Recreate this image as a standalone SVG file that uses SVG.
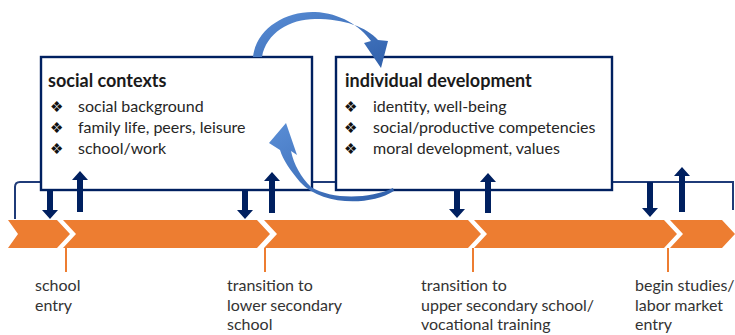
<svg xmlns="http://www.w3.org/2000/svg" width="735" height="335" viewBox="0 0 735 335">
<defs>
<style>
.box{fill:#fff;stroke:#002060;stroke-width:2.4}
.conn{fill:none;stroke:#1F3B78;stroke-width:2}
.arr{fill:#002060}
.chev{fill:#ED7D31}
.tick{stroke:#ED7D31;stroke-width:2}
.title{font-family:Lato,"Open Sans",sans-serif;font-weight:bold;font-size:18px;fill:#1a1a1a}
.item{font-family:Lato,"Open Sans",sans-serif;font-size:16px;fill:#262626}
.bul{font-family:"DejaVu Sans",sans-serif;font-size:15px;fill:#111}
.lbl{font-family:Lato,"Open Sans",sans-serif;font-size:16px;fill:#333}
.curve{fill:url(#blueg)}
</style>
<linearGradient id="blueg" x1="0" y1="0" x2="1" y2="1">
<stop offset="0" stop-color="#5A8ED6"/>
<stop offset="1" stop-color="#2F5FAA"/>
</linearGradient>
</defs>
<g id="timeline">
<polygon class="chev" points="8,220 57,220 70,234 57,248 8,248 18,234"/>
<polygon class="chev" points="63,220 257,220 270,234 257,248 63,248 76,234"/>
<polygon class="chev" points="264,220 468,220 481,234 468,248 264,248 277,234"/>
<polygon class="chev" points="474,220 664,220 677,234 664,248 474,248 487,234"/>
<polygon class="chev" points="670,220 722,220 735,234 722,248 670,248 683,234"/>
<line class="tick" x1="66" y1="248" x2="66" y2="272"/>
<line class="tick" x1="265" y1="248" x2="265" y2="272"/>
<line class="tick" x1="473" y1="248" x2="473" y2="272"/>
<line class="tick" x1="668" y1="248" x2="668" y2="272"/>
</g>
<g id="connectors">
<path class="conn" d="M15,219 L15,187 Q15,182 20,182 L733,182 L733,210"/>
</g>
<g id="social-contexts">
<rect class="box" x="41" y="57" width="271" height="133"/>
<text class="title" x="48" y="87">social contexts</text>
<text class="bul" x="50" y="112">❖︎</text>
<text class="bul" x="50" y="133">❖︎</text>
<text class="bul" x="50" y="154">❖︎</text>
<text class="item" x="78" y="112">social background</text>
<text class="item" x="78" y="133">family life, peers, leisure</text>
<text class="item" x="78" y="154">school/work</text>
</g>
<g id="individual-development">
<rect class="box" x="336" y="57" width="276" height="133"/>
<text class="title" x="345" y="87">individual development</text>
<text class="bul" x="344" y="112">❖︎</text>
<text class="bul" x="344" y="133">❖︎</text>
<text class="bul" x="344" y="154">❖︎</text>
<text class="item" x="373" y="112">identity, well-being</text>
<text class="item" x="373" y="133">social/productive competencies</text>
<text class="item" x="373" y="154">moral development, values</text>
</g>
<g id="influence-arrows">
<path class="curve" d="M253,57 C256,29 285,11 315,12 C340,13 360,26 371,41 L364,43 L381,68 L388,41 L378,40 C366,27 345,19 315,19 C290,19 266,33 262,57 Z"/>
<path class="curve" d="M394,191 C370,206 322,206 300,182 C290,170 283,160 280,150 L269,143 L286,123 L297,155 L291,151 C294,165 301,177 311,187 C332,200 370,199 393,188 Z"/>
</g>
<g id="interaction-arrows">
<polygon class="arr" points="47,190 53,190 53,210 58,210 50,219 42,210 47,210"/>
<polygon class="arr" points="242,190 248,190 248,210 253,210 245,219 237,210 242,210"/>
<polygon class="arr" points="454,190 460,190 460,209 465,209 457,218 449,209 454,209"/>
<polygon class="arr" points="647,182 653,182 653,208 658,208 650,217 642,208 647,208"/>
<polygon class="arr" points="77,212 83,212 83,180 88,180 80,171 72,180 77,180"/>
<polygon class="arr" points="269,213 275,213 275,181 280,181 272,172 264,181 269,181"/>
<polygon class="arr" points="485,213 491,213 491,182 496,182 488,173 480,182 485,182"/>
<polygon class="arr" points="679,212 685,212 685,176 690,176 682,167 674,176 679,176"/>
</g>
<g id="labels">
<text class="lbl" x="35" y="291">school</text>
<text class="lbl" x="35" y="310.5">entry</text>
<text class="lbl" x="227" y="291">transition to</text>
<text class="lbl" x="227" y="310.5">lower secondary</text>
<text class="lbl" x="227" y="330">school</text>
<text class="lbl" x="421" y="291">transition to</text>
<text class="lbl" x="421" y="310.5">upper secondary school/</text>
<text class="lbl" x="421" y="330">vocational training</text>
<text class="lbl" x="635" y="291">begin studies/</text>
<text class="lbl" x="635" y="310.5">labor market</text>
<text class="lbl" x="635" y="330">entry</text>
</g>
</svg>
